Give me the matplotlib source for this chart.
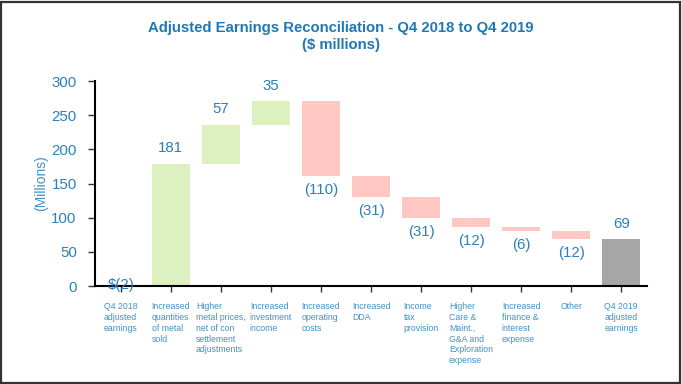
import matplotlib.pyplot as plt
from matplotlib.patches import Rectangle
import matplotlib.transforms as mtransforms

plt.rcParams['font.family'] = ['Liberation Sans', 'DejaVu Sans']

categories = [
    "Q4 2018\nadjusted\nearnings",
    "Increased\nquantities\nof metal\nsold",
    "Higher\nmetal prices,\nnet of con\nsettlement\nadjustments",
    "Increased\ninvestment\nincome",
    "Increased\noperating\ncosts",
    "Increased\nDDA",
    "Income\ntax\nprovision",
    "Higher\nCare &\nMaint.,\nG&A and\nExploration\nexpense",
    "Increased\nfinance &\ninterest\nexpense",
    "Other",
    "Q4 2019\nadjusted\nearnings",
]
changes = [-2, 181, 57, 35, -110, -31, -31, -12, -6, -12, 69]
value_labels = ["$(2)", "181", "57", "35", "(110)", "(31)", "(31)", "(12)", "(6)", "(12)", "69"]

GREEN = "#dcf0c0"
RED = "#ffc8c2"
GREY = "#a6a6a6"
BLUE = "#2a80b9"
LIGHT_BLUE = "#3d93cc"

fig = plt.figure(figsize=(6.82, 3.84), dpi=100)
fig.patches.append(Rectangle((0.002, 0.003), 0.995, 0.993, transform=fig.transFigure,
                             fill=False, edgecolor="#333333", linewidth=1.6))
ax = fig.add_axes([0.139, 0.255, 0.810, 0.534])

bottoms, heights, colors = [], [], []
running = 0
for i, c in enumerate(changes):
    if i == 0:
        bottoms.append(0)
        heights.append(c)
        colors.append(GREY)
        running = c
    elif i == len(changes) - 1:
        bottoms.append(0)
        heights.append(c)
        colors.append(GREY)
    else:
        bottoms.append(running)
        heights.append(c)
        colors.append(GREEN if c > 0 else RED)
        running += c

x = list(range(len(categories)))
ax.bar(x, heights, bottom=bottoms, width=0.75, color=colors, edgecolor="none")

for i, (b, h, lab) in enumerate(zip(bottoms, heights, value_labels)):
    if i == 0:
        ax.text(i, 1, lab, ha="center", va="center", fontsize=10.8, color=BLUE)
    elif h > 0:
        ax.annotate(lab, (i, b + h), xytext=(0, 6), textcoords="offset points",
                    ha="center", va="bottom", fontsize=10.8, color=BLUE)
    else:
        ax.annotate(lab, (i, b + h), xytext=(0, -5), textcoords="offset points",
                    ha="center", va="top", fontsize=10.8, color=BLUE)

trans = mtransforms.blended_transform_factory(ax.transData, ax.transAxes)
for i, cat in enumerate(categories):
    ax.text(i, -0.08, cat, transform=trans, ha="center", va="top",
            multialignment="left", fontsize=6.3, color=LIGHT_BLUE, linespacing=1.25)

ax.set_xlim(-0.52, 10.52)
ax.set_ylim(0, 300)
ax.set_yticks(range(0, 301, 50))
ax.set_xticks(x)
ax.set_xticklabels([])
ax.tick_params(axis="x", length=4, width=1, direction="out", color="#333333")
ax.tick_params(axis="y", length=5, width=1, direction="out", color="#333333",
               labelsize=10.8, labelcolor=BLUE, pad=8)
ax.spines["top"].set_visible(False)
ax.spines["right"].set_visible(False)
ax.spines["left"].set_linewidth(1.5)
ax.spines["bottom"].set_linewidth(1.5)
ax.set_ylabel("(Millions)", color=LIGHT_BLUE, fontsize=10, labelpad=2)

fig.text(0.5, 0.905, "Adjusted Earnings Reconciliation - Q4 2018 to Q4 2019\n($ millions)",
         ha="center", va="center", fontsize=10.7, fontweight="bold", color="#1f78b4",
         linespacing=1.35)

fig.savefig("out.png", dpi=100)
